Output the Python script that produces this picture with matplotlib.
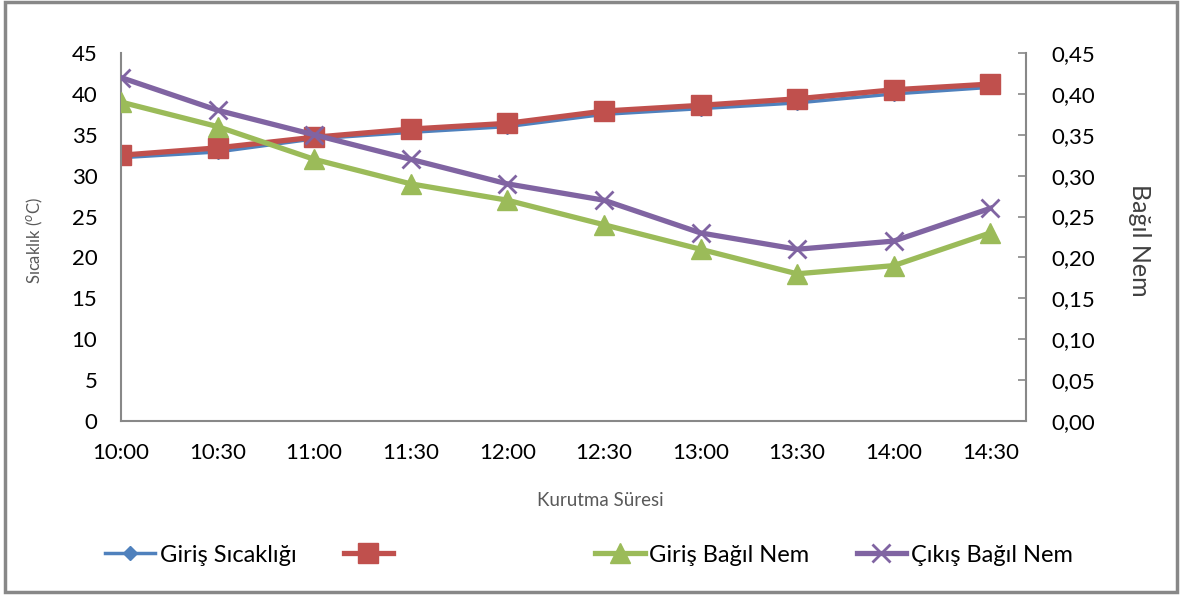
import matplotlib.pyplot as plt
from matplotlib.patches import Rectangle
from matplotlib.ticker import FuncFormatter

plt.rcParams['font.family'] = ['Lato', 'DejaVu Sans']

# Veriler
saatler = ["10:00", "10:30", "11:00", "11:30", "12:00", "12:30", "13:00", "13:30", "14:00", "14:30"]
giris_sicaklik = [32.2, 32.9, 34.5, 35.3, 36.0, 37.5, 38.2, 38.9, 40.0, 40.8]
cikis_sicaklik = [32.5, 33.4, 34.7, 35.7, 36.4, 37.9, 38.6, 39.4, 40.5, 41.2]
giris_nem = [0.39, 0.36, 0.32, 0.29, 0.27, 0.24, 0.21, 0.18, 0.19, 0.23]
cikis_nem = [0.42, 0.38, 0.35, 0.32, 0.29, 0.27, 0.23, 0.21, 0.22, 0.26]

mavi = "#4F81BD"
kirmizi = "#C0504D"
yesil = "#9BBB59"
mor = "#8064A2"
gri = "#888888"

fig = plt.figure(figsize=(11.86, 5.98), dpi=100)
ax = fig.add_axes([121 / 1186, 1 - 421 / 598, (1026 - 121) / 1186, (421 - 53) / 598])
ax2 = ax.twinx()

x = list(range(len(saatler)))
l1, = ax.plot(x, giris_sicaklik, color=mavi, lw=2.5, marker="D", ms=7, label="Giriş Sıcaklığı")
l2, = ax.plot(x, cikis_sicaklik, color=kirmizi, lw=3.8, marker="s", ms=14, label=" " * 25)
l3, = ax2.plot(x, giris_nem, color=yesil, lw=3.8, marker="^", ms=15, label="Giriş Bağıl Nem")
l4, = ax2.plot(x, cikis_nem, color=mor, lw=3.8, marker="x", ms=13, mew=2, label="Çıkış Bağıl Nem")

ax.set_xlim(0, 9.37)
ax.set_ylim(0, 45)
ax2.set_ylim(0, 0.45)
ax.set_xticks(x)
ax.set_xticklabels(saatler)
ax.set_yticks(range(0, 50, 5))
ax2.set_yticks([i / 100 for i in range(0, 50, 5)])
ax2.yaxis.set_major_formatter(FuncFormatter(lambda v, p: f"{v:.2f}".replace(".", ",")))

for a in (ax, ax2):
    for s in a.spines.values():
        s.set_color(gri)
        s.set_linewidth(1.5)
    a.spines["top"].set_visible(False)
ax.spines["right"].set_visible(False)
ax2.spines["left"].set_visible(False)
ax2.spines["bottom"].set_visible(False)

ax.tick_params(axis="x", length=0, pad=16, labelsize=16)
ax.tick_params(axis="y", length=0, pad=17, labelsize=16)
ax2.tick_params(axis="y", direction="in", length=6, color=gri, width=1.2, pad=18, labelsize=16)

fig.text(35 / 1186, 1 - 240 / 598, "Sıcaklık ($^{o}$C)", rotation=90, ha="center", va="center",
         fontsize=12, color="#595959")
fig.text(1140 / 1186, 1 - 240 / 598, "Bağıl Nem", rotation=-90, ha="center", va="center",
         fontsize=18, color="#404040")
fig.text(600 / 1186, 1 - 500 / 598, "Kurutma Süresi", ha="center", va="center",
         fontsize=13.5, color="#595959")

fig.legend(handles=[l1, l2, l3, l4], ncol=4, loc="center left",
           bbox_to_anchor=(84 / 1186, 1 - 555 / 598), frameon=False, fontsize=17,
           handlelength=2.1, handletextpad=0.2, columnspacing=2.0)

fig.patches.append(Rectangle((5 / 1186, 6 / 598), 1172 / 1186, 590 / 598, transform=fig.transFigure,
                             fill=False, edgecolor=gri, lw=2.5))

fig.savefig("out.png", dpi=100)
